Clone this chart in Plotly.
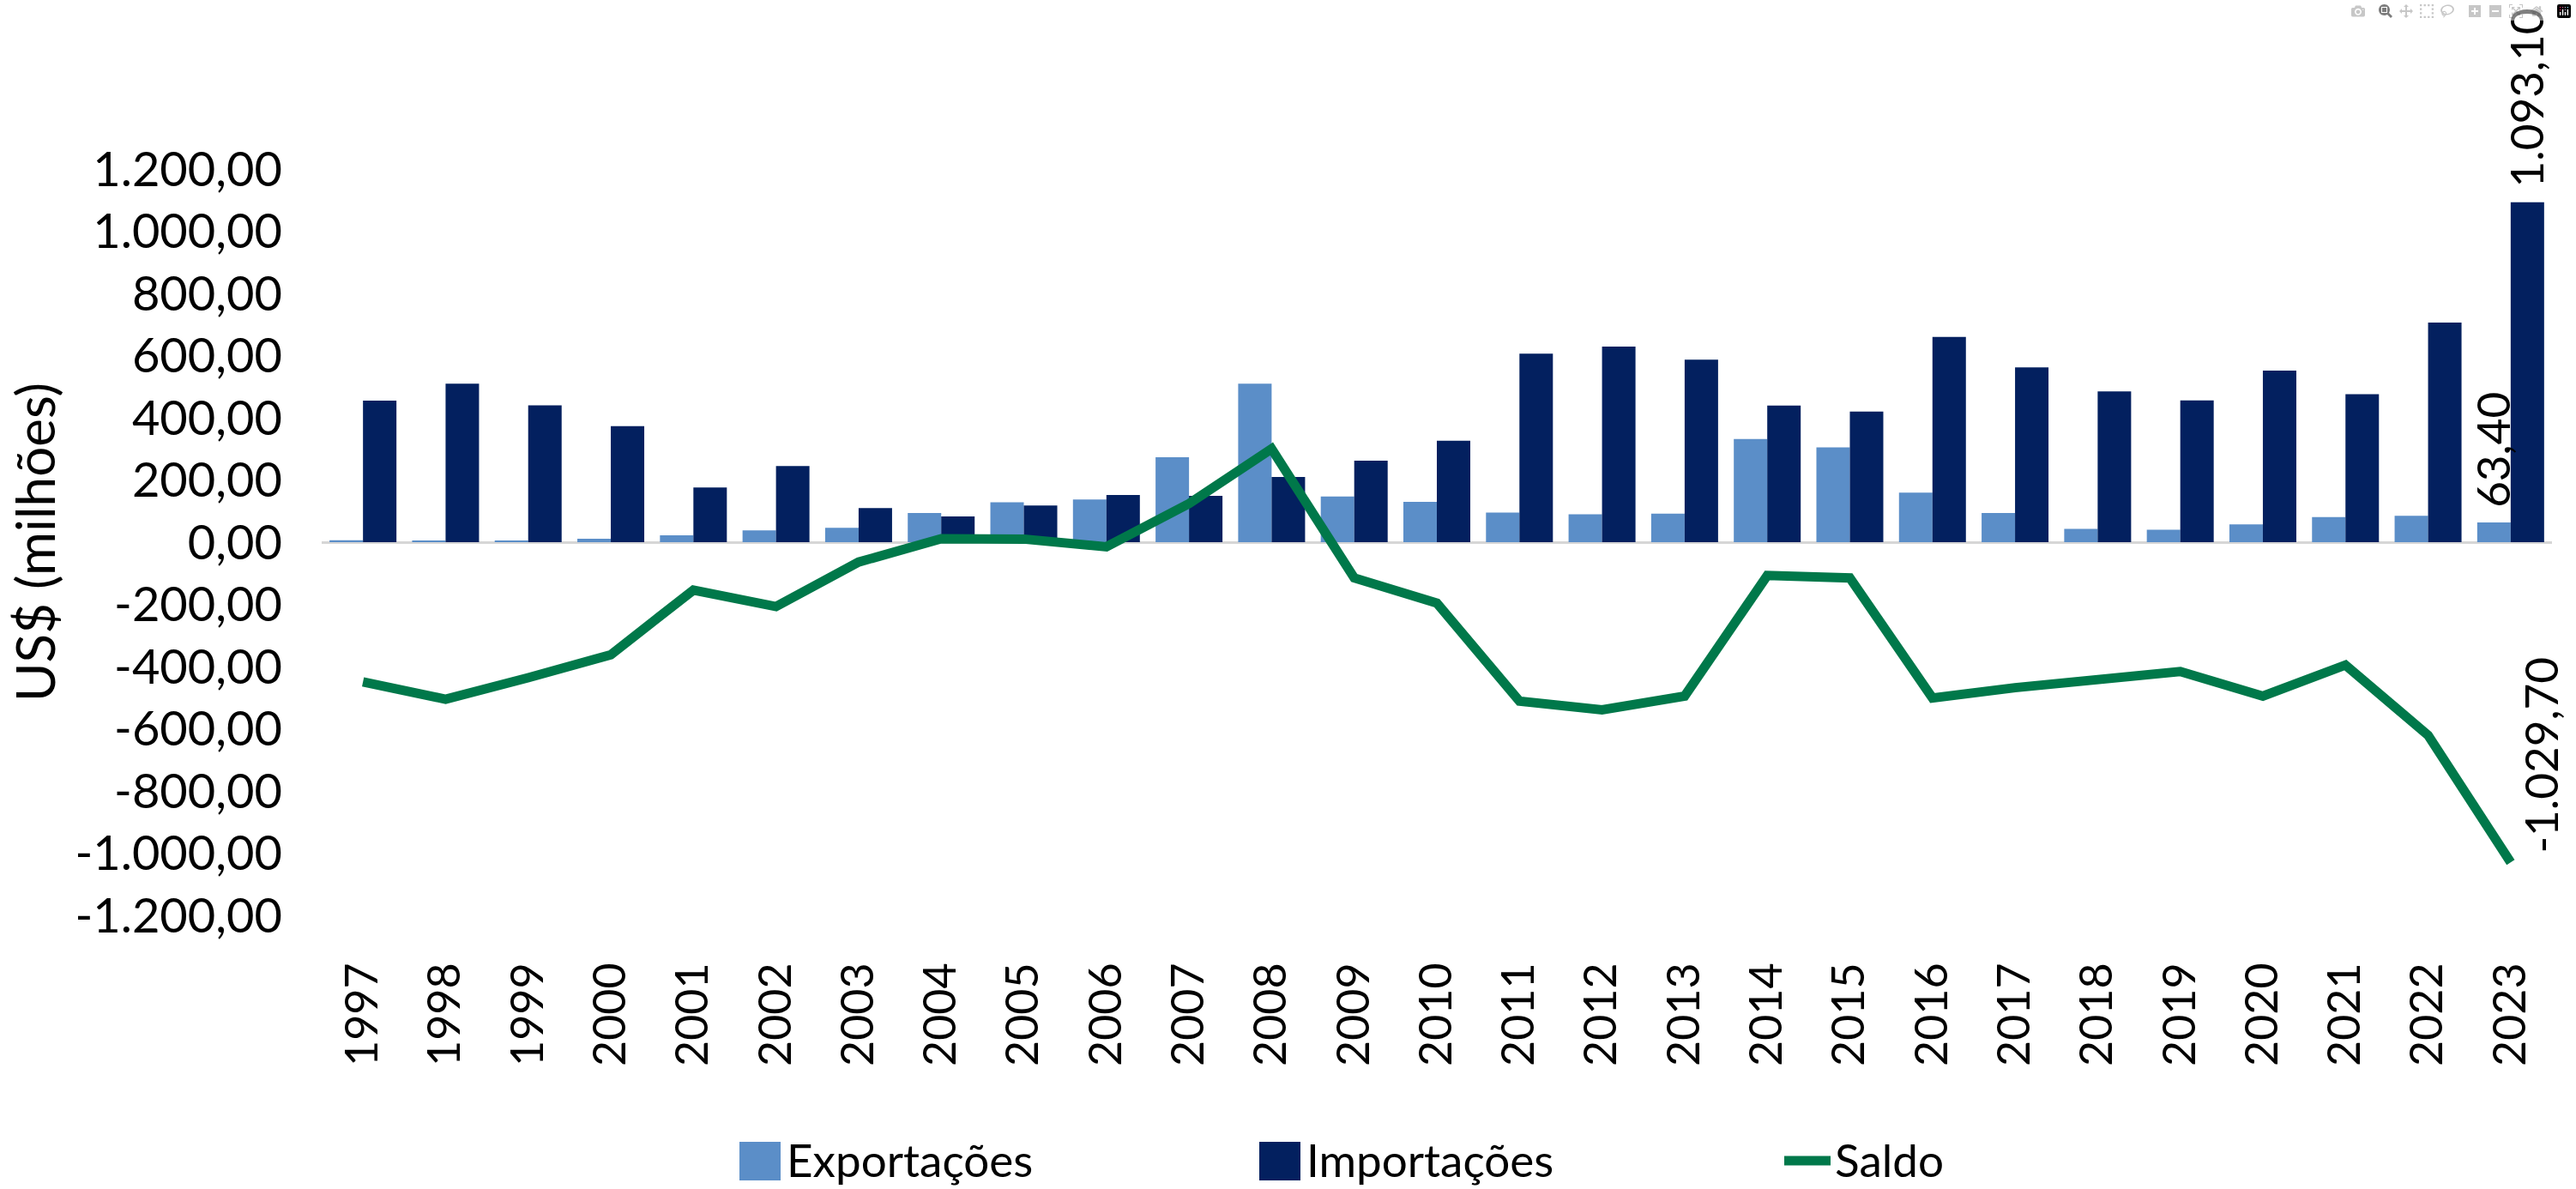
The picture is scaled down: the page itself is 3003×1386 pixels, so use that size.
import plotly.graph_objects as go

years = [str(y) for y in range(1997, 2024)]
exportacoes = [6, 5, 4, 11, 22, 38, 46, 94, 128, 137, 273, 510, 147, 130, 95, 90, 92,
               332, 305, 159, 94, 43, 40, 57, 81, 85, 63.4]
importacoes = [455, 510, 440, 373, 176, 245, 110, 83, 118, 152, 149, 210, 262, 326, 606,
               629, 587, 439, 420, 660, 562, 485, 456, 552, 476, 706, 1093.1]
saldo = [-449, -505, -436, -362, -154, -207, -64, 11, 10, -15, 124, 300, -115, -196, -511,
         -539, -495, -107, -115, -501, -468, -442, -416, -495, -395, -621, -1029.7]
y_ticks = [-1200, -1000, -800, -600, -400, -200, 0, 200, 400, 600, 800, 1000, 1200]

C_EXP = "#5B8EC8"
C_IMP = "#03205F"
C_SAL = "#00784A"
FONT = "Lato"
BARGAP = 0.19


def br(v):
    s = f"{v:,.2f}"
    return s.replace(",", "X").replace(".", ",").replace("X", ".")


fig = go.Figure()
fig.add_trace(go.Bar(x=years, y=exportacoes, name="Exportações", marker_color=C_EXP,
                     marker_line_width=0))
fig.add_trace(go.Bar(x=years, y=importacoes, name="Importações", marker_color=C_IMP,
                     marker_line_width=0))
fig.add_trace(go.Scatter(x=years, y=saldo, name="Saldo", mode="lines",
                         line=dict(color=C_SAL, width=11), cliponaxis=False))

W, H = 3003, 1386
L, R, T, B = 375, 28, 197, 319
pw = W - L - R
ph = H - T - B
ncat = len(years)

fig.update_layout(
    width=W, height=H,
    margin=dict(l=L, r=R, t=T, b=B, autoexpand=False),
    plot_bgcolor="white", paper_bgcolor="white",
    barmode="group", bargap=BARGAP, bargroupgap=0,
    showlegend=False,
    font=dict(family=FONT, color="black"),
)
fig.update_xaxes(
    type="category", range=[-0.5, ncat - 0.5], autorange=False,
    showgrid=False, showline=False, ticks="", zeroline=False,
    tickangle=-90, tickfont=dict(family=FONT, size=52, color="black"),
    ticklabelstandoff=44,
)
fig.update_yaxes(
    range=[-1200, 1200], autorange=False, tickvals=y_ticks,
    ticktext=[br(v) for v in y_ticks],
    showgrid=False, showline=False, ticks="",
    zeroline=True, zerolinecolor="#D6D6D6", zerolinewidth=3,
    tickfont=dict(family=FONT, size=56, color="black"),
    ticklabelstandoff=45,
    title=dict(text="US$ (milhões)", font=dict(family=FONT, size=62, color="black"),
               standoff=2),
)

# data labels for last year
n = ncat - 1
bar_off = (1 - BARGAP) / 4 * (pw / ncat)
lab_font = dict(family=FONT, size=53, color="black")
fig.add_annotation(x=n, y=importacoes[n], text=br(importacoes[n]), textangle=-90,
                   showarrow=False, xanchor="center", yanchor="bottom", xshift=bar_off - 2,
                   yshift=16, borderpad=0, font=lab_font)
fig.add_annotation(x=n, y=exportacoes[n], text=br(exportacoes[n]), textangle=-90,
                   showarrow=False, xanchor="center", yanchor="bottom", xshift=-bar_off - 2,
                   yshift=16, borderpad=0, font=lab_font)
fig.add_annotation(x=n, y=saldo[n], text=br(saldo[n]), textangle=-90,
                   showarrow=False, xanchor="center", yanchor="bottom", xshift=35,
                   yshift=10, borderpad=0, font=lab_font)


# custom legend
def px2x(px):
    return (px - L) / pw


def py2y(py):
    return (H - B - py) / ph


legend_items = [
    ("rect", C_EXP, 862, 910, "Exportações", 916),
    ("rect", C_IMP, 1468, 1516, "Importações", 1522),
    ("line", C_SAL, 2080, 2134, "Saldo", 2138),
]
ly_top, ly_bot, ly_mid = 1331, 1376, 1353
for kind, col, x0, x1, label, tx in legend_items:
    if kind == "rect":
        fig.add_shape(type="rect", xref="paper", yref="paper", x0=px2x(x0), x1=px2x(x1),
                      y0=py2y(ly_bot), y1=py2y(ly_top), fillcolor=col, line_width=0)
    else:
        fig.add_shape(type="line", xref="paper", yref="paper", x0=px2x(x0), x1=px2x(x1),
                      y0=py2y(ly_mid), y1=py2y(ly_mid), line=dict(color=col, width=11))
    fig.add_annotation(xref="paper", yref="paper", x=px2x(tx), y=py2y(ly_mid - 2), text=label,
                       showarrow=False, xanchor="left", yanchor="middle", borderpad=0,
                       font=dict(family=FONT, size=53, color="black"))

fig.write_html("out.html", post_script="document.body.style.margin='0';")
